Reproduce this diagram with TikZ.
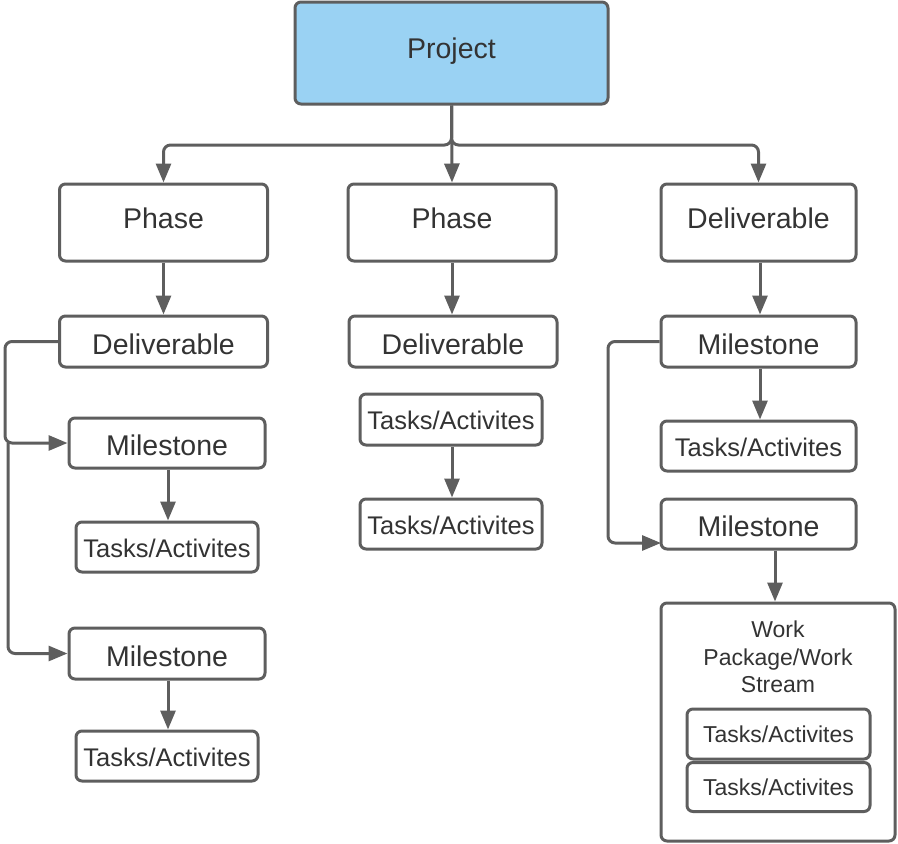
\documentclass[tikz,border=0pt]{standalone}
\usepackage{fontspec}
\setmainfont{Liberation Sans}
\usetikzlibrary{arrows.meta}
\definecolor{edgegray}{HTML}{5E5E5E}
\definecolor{inkgray}{HTML}{333333}
\definecolor{projblue}{HTML}{9AD2F3}
\tikzset{
  box/.style={draw=edgegray, line width=3pt, rounded corners=6pt, fill=white,
    text=inkgray, inner sep=0pt, align=center},
  big/.style={font=\fontsize{28.5}{32}\selectfont},
  mid/.style={font=\fontsize{25.5}{29}\selectfont, text height=20.3pt, text depth=0pt},
  small/.style={font=\fontsize{23}{27.5}\selectfont},
  % vertical placement of the label inside a box
  lowtext/.style={text height=25.4pt, text depth=0pt},
  hightext/.style={text height=20.4pt, text depth=8pt},
  toptext/.style={text height=20.4pt, text depth=10pt},
  link/.style={draw=edgegray, line width=3pt, rounded corners=7pt,
    -{Triangle[length=19pt,width=15pt]}},
}
\begin{document}
\begin{tikzpicture}[x=1pt,y=-1pt]
\useasboundingbox (0,0) rectangle (898,844);

% top level
\node[box, big, toptext, fill=projblue, minimum width=313pt, minimum height=102pt] (proj) at (451.5,53) {Project};

% second level
\node[box, big, hightext, minimum width=208pt, minimum height=77pt] (ph1) at (163.5,222.5) {Phase};
\node[box, big, hightext, minimum width=208pt, minimum height=77pt] (ph2) at (452,222.5) {Phase};
\node[box, big, hightext, minimum width=195pt, minimum height=77pt] (delR) at (758.5,222.5) {Deliverable};

% left column
\node[box, big, lowtext, minimum width=208pt, minimum height=51pt] (delL) at (163.5,341.5) {Deliverable};
\node[box, big, lowtext, minimum width=196pt, minimum height=50pt] (msL1) at (167,443) {Milestone};
\node[box, mid, minimum width=182pt, minimum height=50pt] (tkL1) at (167,547) {Tasks/Activites};
\node[box, big, lowtext, minimum width=196pt, minimum height=51pt] (msL2) at (167,653.5) {Milestone};
\node[box, mid, minimum width=182pt, minimum height=50pt] (tkL2) at (167,756) {Tasks/Activites};

% middle column
\node[box, big, lowtext, minimum width=208pt, minimum height=51pt] (delC) at (453,341.5) {Deliverable};
\node[box, mid, minimum width=182pt, minimum height=51pt] (tkC1) at (451,419.5) {Tasks/Activites};
\node[box, mid, minimum width=182pt, minimum height=50pt] (tkC2) at (451,524) {Tasks/Activites};

% right column
\node[box, big, lowtext, minimum width=195pt, minimum height=51pt] (msR1) at (758.5,341.5) {Milestone};
\node[box, mid, minimum width=195pt, minimum height=50pt] (tkR1) at (758.5,446) {Tasks/Activites};
\node[box, big, lowtext, minimum width=195pt, minimum height=50pt] (msR2) at (758.5,524) {Milestone};

% work package container
\node[box, minimum width=234pt, minimum height=238pt] (wp) at (778,722) {};
\node[text=inkgray, small, align=center] (wptitle) at (778,657) {Work\\Package/Work\\Stream};
\node[box, small, minimum width=183pt, minimum height=50pt] (tkW1) at (778.5,734) {Tasks/Activites};
\node[box, small, minimum width=183pt, minimum height=49pt] (tkW2) at (778.5,787) {Tasks/Activites};

% connectors from the project box
\draw[link] (proj.south) -- (ph2.north);
\draw[link] (proj.south) -- (451.5,145) -| (ph1.north);
\draw[link] (proj.south) -- (451.5,145) -| (delR.north);

% left column connectors
\draw[link] (ph1.south) -- (delL.north);
\draw[link] (delL.west) -| (5,443) -- (msL1.west);
\coordinate (split) at (8,443);
\draw[link] (split) |- (msL2.west);
\draw[link] (msL1.south -| 168,0) -- (tkL1.north -| 168,0);
\draw[link] (msL2.south -| 168,0) -- (tkL2.north -| 168,0);

% middle column connectors
\draw[link] (ph2.south) -- (ph2.south |- delC.north);
\draw[link] (tkC1.south -| 452,0) -- (tkC2.north -| 452,0);

% right column connectors
\draw[link] (delR.south -| 760,0) -- (msR1.north -| 760,0);
\draw[link] (msR1.south -| 760,0) -- (tkR1.north -| 760,0);
\coordinate (msR2in) at (661,543);
\draw[link] (msR1.west) -| (608,543) -- (msR2in);
\draw[link] (msR2.south -| 775,0) -- (wp.north -| 775,0);
\end{tikzpicture}
\end{document}
